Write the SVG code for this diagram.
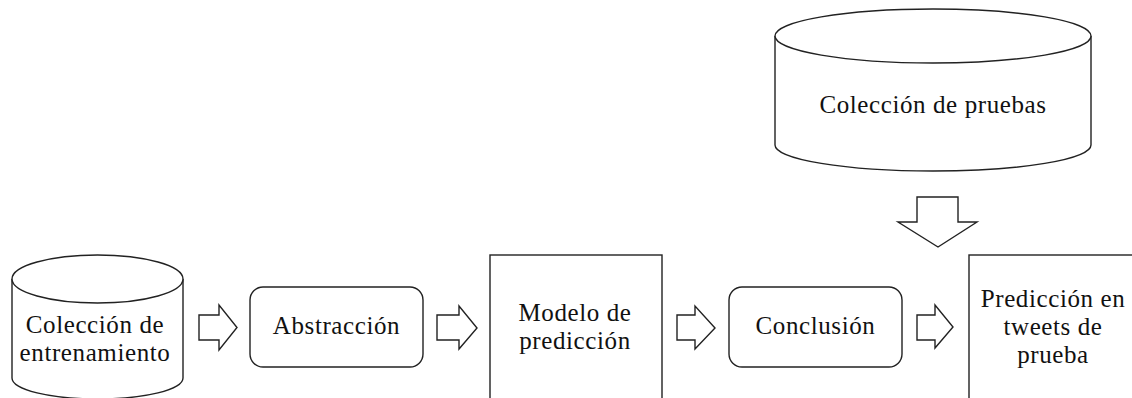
<svg xmlns="http://www.w3.org/2000/svg" width="1132" height="398" viewBox="0 0 1132 398">
<style>
.s{fill:#fff;stroke:#222;stroke-width:1.4}
.t{font-family:"Liberation Serif","Times New Roman",serif;font-size:25px;letter-spacing:0.6px;fill:#111;text-anchor:middle}
</style>
<rect width="1132" height="398" fill="#fff"/>
<g id="coleccion-pruebas">
<path class="s" d="M775,36 L775,145 A158,26 0 0 0 1091,145 L1091,36"/>
<ellipse class="s" cx="933" cy="36" rx="158" ry="27"/>
<text class="t" x="933" y="113">Colección de pruebas</text>
</g>
<g id="coleccion-entrenamiento">
<path class="s" d="M12,279 L12,378 A85.5,21 0 0 0 183,378 L183,279"/>
<ellipse class="s" cx="97.5" cy="279" rx="85.5" ry="24"/>
<text class="t" x="95" y="333">Colección de</text>
<text class="t" x="95" y="361">entrenamiento</text>
</g>
<g id="abstraccion">
<rect class="s" x="250" y="287" width="173" height="80" rx="13"/>
<text class="t" x="336.5" y="334">Abstracción</text>
</g>
<g id="modelo">
<rect class="s" x="490" y="255" width="172" height="160"/>
<text class="t" x="575" y="321">Modelo de</text>
<text class="t" x="575" y="349">predicción</text>
</g>
<g id="conclusion">
<rect class="s" x="729" y="287" width="173" height="80" rx="13"/>
<text class="t" x="815.5" y="334">Conclusión</text>
</g>
<g id="prediccion">
<rect class="s" x="969" y="255" width="170" height="160"/>
<text class="t" x="1053" y="306.5">Predicción en</text>
<text class="t" x="1053" y="334.5">tweets de</text>
<text class="t" x="1053" y="362.5">prueba</text>
</g>
<g id="connectors">
<path class="s" d="M199,315 H219 V305 L237,327.5 L219,350 V340 H199 Z"/>
<path class="s" d="M437,315 H459 V306 L477,328 L459,349 V340 H437 Z"/>
<path class="s" d="M677,315 H695 V306 L715,328 L695,349 V340 H677 Z"/>
<path class="s" d="M917,315 H935 V305 L953,327 L935,348 V340 H917 Z"/>
<path class="s" d="M917,197 H958 V222 H977 L938,247 L898,222 H917 Z"/>
</g>
</svg>
